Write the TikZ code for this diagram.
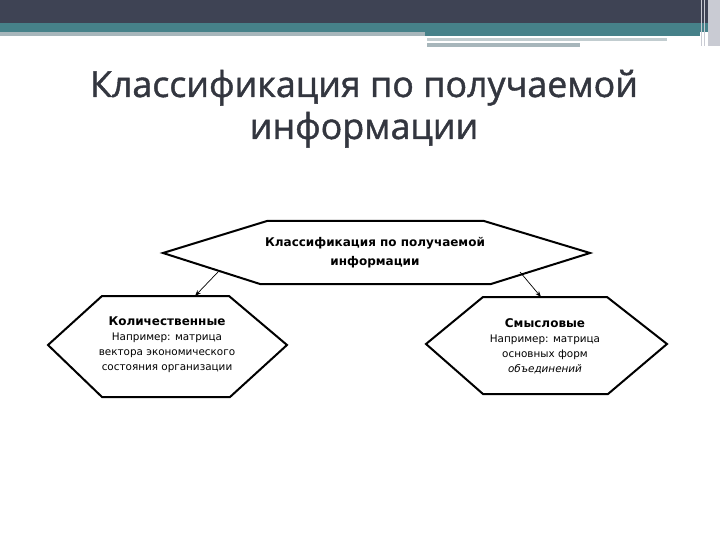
\documentclass[tikz,border=0pt]{standalone}
\usepackage{fontspec}
\setmainfont{DejaVu Sans}
\newfontfamily\titlefont[FakeBold=1.2]{Open Sans}
\usetikzlibrary{arrows.meta,calc}
\definecolor{barDark}{HTML}{3E4354}
\definecolor{barTeal}{HTML}{468189}
\definecolor{barGray}{HTML}{A7B6BB}
\definecolor{barLight}{HTML}{C9CBD3}
\definecolor{titleCol}{HTML}{33363F}
\tikzset{
  hexa/.style={draw=black,line width=2pt,line join=miter,fill=white},
  headtxt/.style={font=\bfseries\fontsize{12}{19.5}\selectfont,align=center,inner sep=0pt},
  boxtxt/.style={font=\fontsize{10.4}{15}\selectfont,align=center,inner sep=0pt},
  link/.style={draw=black,line width=0.7pt,-{Stealth[length=6pt,width=4.5pt]}},
  ttl/.style={font=\titlefont\fontsize{35.8}{42}\selectfont,text=titleCol,anchor=base,inner sep=0pt}
}
\begin{document}
\begin{tikzpicture}[x=1pt,y=-1pt]
\useasboundingbox (0,0) rectangle (720,540);
\fill[white] (0,0) rectangle (720,540);
% top bar
\fill[barDark] (0,0) rectangle (720,23);
\fill[barTeal] (0,23) rectangle (720,32);
\fill[barGray] (0,32) rectangle (425,36);
\fill[barTeal] (425,32) rectangle (700,36);
\fill[barGray!70] (427,38) rectangle (667,41);
\fill[barGray] (427,43) rectangle (580,47);
\fill[barLight] (708,0) rectangle (720,46);
\draw[barLight,line width=1pt] (701,0) -- (701,46);
\draw[barLight,line width=1pt] (704,0) -- (704,46);
% title
\node[ttl] (title1) at (364,97) {Классификация по получаемой};
\node[ttl] (title2) at (364,139) {информации};
% top hexagon
\draw[hexa] (163,253) -- (267,221) -- (484,221) -- (590,253) -- (491,284) -- (260,284) -- cycle;
\node[headtxt] (top) at (375,252.5) {Классификация по получаемой\\информации};
% left hexagon
\draw[hexa] (48,345) -- (102,296) -- (229,296) -- (287,345) -- (230,397) -- (102,397) -- cycle;
\node[boxtxt] (left) at (167,345) {\textbf{\fontsize{12}{15}\selectfont Количественные}\\Например: матрица\\вектора экономического\\состояния организации};
% right hexagon
\draw[hexa] (426,344) -- (483,297) -- (607,297) -- (667,344) -- (608,394) -- (483,394) -- cycle;
\node[boxtxt] (right) at (545,346) {\textbf{\fontsize{12}{15}\selectfont Смысловые}\\Например: матрица\\основных форм\\\textit{объединений}};
% connectors
\coordinate (topL) at (218,272);
\coordinate (leftIn) at (195,296);
\coordinate (topR) at (520,272);
\coordinate (rightIn) at (541,297);
\draw[link] (topL) -- (leftIn);
\draw[link] (topR) -- (rightIn);
\end{tikzpicture}
\end{document}
